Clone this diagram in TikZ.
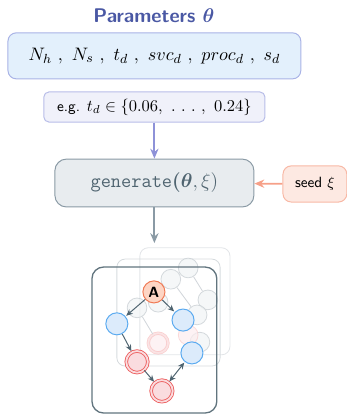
\documentclass[tikz,border=0pt]{standalone}
\usepackage{amsmath,bm}
\usetikzlibrary{shapes.geometric,positioning,arrows.meta}

\definecolor{titleblue}{HTML}{4A58A4}
\definecolor{parfill}{HTML}{E3F0FC}
\definecolor{pardraw}{HTML}{A9B3E6}
\definecolor{exfill}{HTML}{F0F1FA}
\definecolor{exdraw}{HTML}{B8BDE8}
\definecolor{exarrow}{HTML}{8E92D8}
\definecolor{genfill}{HTML}{E8ECEF}
\definecolor{gendraw}{HTML}{8A9AA5}
\definecolor{slate}{HTML}{4F6470}
\definecolor{seedfill}{HTML}{FDE9E2}
\definecolor{seeddraw}{HTML}{F8B8A5}
\definecolor{seedarrow}{HTML}{F6A088}
\definecolor{bluefill}{HTML}{DCEBFB}
\definecolor{bluedraw}{HTML}{5AAAF0}
\definecolor{redfill}{HTML}{FADCDF}
\definecolor{reddraw}{HTML}{EC5A5A}
\definecolor{afill}{HTML}{FDD5C4}
\definecolor{adraw}{HTML}{F07A55}
\definecolor{ghost}{HTML}{C5CBD0}

\begin{document}
\begin{tikzpicture}[
  box/.style={rectangle,rounded corners=5pt,draw,line width=0.6pt,align=center},
  state/.style={circle,draw,line width=0.6pt,minimum size=0.47cm,inner sep=0pt},
  acc/.style={circle,draw=reddraw,fill=redfill,double=redfill,double distance=1.1pt,
              line width=0.5pt,minimum size=0.46cm,inner sep=0pt},
  gst/.style={circle,draw=ghost,fill=genfill!60,line width=0.5pt,minimum size=0.42cm,
              inner sep=0pt,opacity=0.7},
  edge/.style={-{Stealth[length=4pt,width=3.5pt]},draw=slate,line width=0.6pt,shorten >=0.5pt},
  flow/.style={-{Stealth[length=6pt,width=5pt]},line width=1.1pt},
]
\useasboundingbox (0,0) rectangle (7.394,-8.843);

% === Parameters ===
\node[font=\sffamily\bfseries\large,text=titleblue] (title) at (3.28,-0.34)
  {Parameters $\bm{\theta}$};
\node[box,fill=parfill,draw=pardraw,minimum width=6.24cm,minimum height=0.98cm,
      font=\fontsize{11}{13}\selectfont] (params) at (3.29,-1.19)
  {$N_h\ ,\ N_s\ ,\ t_d\ ,\ svc_d\ ,\ proc_d\ ,\ s_d$};
\node[box,fill=exfill,draw=exdraw,rounded corners=3pt,minimum width=4.71cm,minimum height=0.64cm,
      font=\sffamily\small] (example) at (3.29,-2.28)
  {e.g. {\normalsize$t_d \in \{0.06,\ .\ .\ .\ ,\ 0.24\}$}};

% === Generator ===
\node[box,fill=genfill,draw=gendraw,rounded corners=7pt,minimum width=4.24cm,minimum height=1.02cm,
      font=\large,text=slate] (gen) at (3.29,-3.90)
  {\texttt{generate}$\bm{(\theta},\xi)$};
\node[box,fill=seedfill,draw=seeddraw,minimum width=1.36cm,minimum height=0.77cm,
      font=\sffamily\small] (seed) at (6.71,-3.92) {seed $\xi$};

\draw[flow,exarrow] (example) -- (gen);
\draw[flow,seedarrow] (seed) -- (gen);
\coordinate (out) at (3.29,-5.18);
\draw[flow,gendraw] (gen) -- (out);

% === Sampled instances (stack) ===
\draw[ghost!50,line width=0.5pt,rounded corners=5pt] (2.98,-5.28) rectangle (4.90,-7.56);
\draw[ghost!70,line width=0.5pt,rounded corners=5pt] (2.49,-5.52) rectangle (4.69,-7.80);

% ghost graph behind the front one
\node[gst] (g1) at (4.01,-5.71) {};
\node[gst] (g2) at (3.64,-5.95) {};
\node[gst] (g3) at (4.43,-6.39) {};
\node[gst] (g4) at (2.92,-6.56) {};
\node[gst] (g5) at (3.37,-6.44) {};
\node[gst] (g6) at (4.20,-6.71) {};
\node[gst] (g7) at (4.26,-7.29) {};
\node[gst,draw=reddraw!40,fill=redfill!50,double=redfill!50,double distance=1pt] (r1) at (3.37,-7.31) {};
\node[gst,draw=reddraw!30,fill=redfill!50] (r2) at (4.01,-7.14) {};
\draw[ghost!80,line width=0.5pt] (g1) -- (g3) (g2) -- (g6) (g4) -- (r1) (g2) -- (g1);

% front graph
\draw[slate!90,line width=0.8pt,rounded corners=7pt] (1.96,-5.69) rectangle (4.62,-8.80);
\node[state,fill=afill,draw=adraw,font=\sffamily\bfseries\small] (A) at (3.28,-6.22) {A};
\node[state,fill=bluefill,draw=bluedraw] (b1) at (2.49,-6.90) {};
\node[state,fill=bluefill,draw=bluedraw] (b2) at (3.90,-6.82) {};
\node[state,fill=bluefill,draw=bluedraw] (b3) at (4.09,-7.52) {};
\node[acc] (f1) at (2.92,-7.71) {};
\node[acc] (f2) at (3.45,-8.33) {};

\draw[edge] (A) -- (b1);
\draw[edge] (A) -- (b2);
\draw[edge] (b1) -- (f1);
\draw[edge] (f1) -- (f2);
\draw[edge,{Stealth[length=4pt,width=3.5pt]}-{Stealth[length=4pt,width=3.5pt]},shorten <=0.5pt] (f2) -- (b3);

\end{tikzpicture}
\end{document}
